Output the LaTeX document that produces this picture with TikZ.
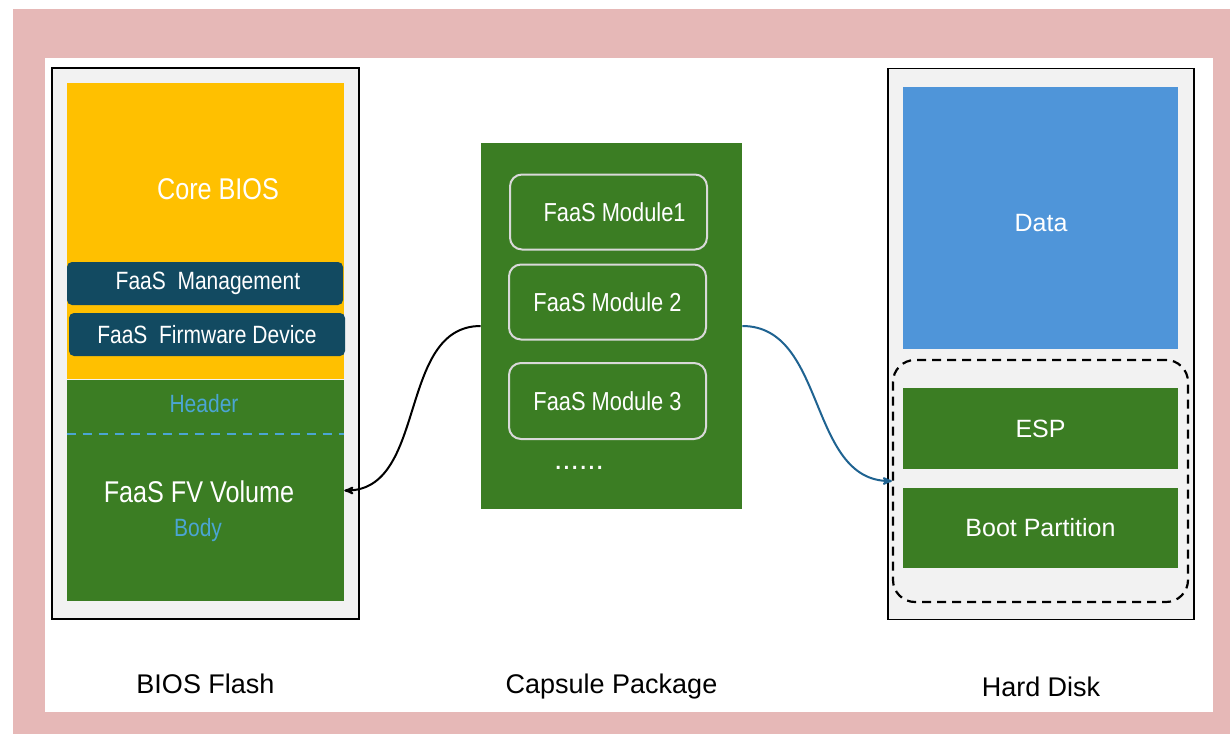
\documentclass[tikz,border=0pt]{standalone}
\usepackage{fontspec}
\setmainfont{Liberation Sans}
\newfontfamily\narrowfont{Liberation Sans}[FakeStretch=0.84]
\usetikzlibrary{arrows,positioning}

\definecolor{framepink}{HTML}{E6B8B7}
\definecolor{panelgrey}{HTML}{F2F2F2}
\definecolor{biosyellow}{HTML}{FFC000}
\definecolor{fvgreen}{HTML}{3B7D23}
\definecolor{faasteal}{HTML}{124A61}
\definecolor{datablue}{HTML}{4F95D9}
\definecolor{hdrblue}{HTML}{4BA5D3}
\definecolor{linkblue}{HTML}{1F6391}
\definecolor{modgrey}{HTML}{D9D9D9}

\begin{document}
\begin{tikzpicture}[x=1pt,y=-1pt,>=stealth',semithick,
                    panel/.style={draw=black,line width=1.2pt,fill=panelgrey,inner sep=0pt},
                    block/.style={inner sep=0pt,draw=none},
                    faasbar/.style={block,fill=faasteal,rounded corners=5pt,text=white,
                                    font=\narrowfont\fontsize{25}{30}\selectfont},
                    module/.style={draw=modgrey,line width=2pt,rounded corners=12pt,inner sep=0pt,
                                   minimum width=197pt,minimum height=75pt,text=white,
                                   font=\narrowfont\fontsize{26}{30}\selectfont},
                    disktxt/.style={text=white,font=\fontsize{25}{30}\selectfont},
                    caption/.style={inner sep=0pt,font=\fontsize{27}{32}\selectfont}]
  % \tikzstyle{every node}=[font=\narrowfont]

  \useasboundingbox (0,0) rectangle (1230,734);
  \fill[framepink] (13,9) rectangle (1230,734);
  \fill[white] (45,58) rectangle (1213,712);

  % bios flash
  \node[panel,minimum width=307pt,minimum height=551pt] (flash) at (205.5,343.5) {};
  \node[block,fill=biosyellow,minimum width=277pt,minimum height=296pt] (core) at (205.5,231) {};
  \node[text=white,font=\narrowfont\fontsize{30}{36}\selectfont] (corelbl) at (218,189) {Core BIOS};
  \node[faasbar,minimum width=276pt,minimum height=43pt] (mgmt) at (205,283.5) {\ FaaS\ \ Management};
  \node[faasbar,minimum width=276pt,minimum height=43pt] (fwdev) at (207,334.5) {FaaS\ \ Firmware Device};
  \node[block,fill=fvgreen,minimum width=277pt,minimum height=221pt] (fv) at (205.5,490.5) {};
  \draw[hdrblue,line width=2pt,dash pattern=on 9pt off 7pt]
    ([yshift=-54pt]fv.north west) -- ([yshift=-54pt]fv.north east);
  \node[text=hdrblue,font=\narrowfont\fontsize{25}{30}\selectfont] (hdrlbl) at (204,404) {Header};
  \node[text=white,font=\narrowfont\fontsize{30}{36}\selectfont] (fvlbl) at (199,492) {FaaS FV Volume};
  \node[text=hdrblue,font=\narrowfont\fontsize{25}{30}\selectfont] (bodylbl) at (198,530) {Body};

  % capsule
  \node[block,fill=fvgreen,minimum width=261pt,minimum height=366pt] (capsule) at (611.5,326) {};
  \node[module] (mod1) at (608.5,212) {\ \ FaaS Module1};
  \node[module] (mod2) at (607.5,302) {FaaS Module 2};
  \node[module,minimum height=76pt] (mod3) at (607.5,401) {FaaS Module 3};
  \node[text=white,font=\fontsize{30}{30}\selectfont] (dots) at (579,468) {......};

  % hard disk
  \node[panel,minimum width=306pt,minimum height=551pt] (disk) at (1041,344) {};
  \node[block,fill=datablue,minimum width=275pt,minimum height=262pt] (data) at (1040.5,218) {};
  \node[disktxt] (datalbl) at (1041,223) {Data};
  \node[draw=black,line width=2.2pt,dash pattern=on 9pt off 6pt,rounded corners=22pt,
        minimum width=295pt,minimum height=242pt,inner sep=0pt] (espgroup) at (1040.5,481) {};
  \node[block,fill=fvgreen,minimum width=275pt,minimum height=81pt,disktxt] (esp) at (1040.5,428.5) {ESP};
  \node[block,fill=fvgreen,minimum width=275pt,minimum height=80pt,disktxt] (boot) at (1040.5,528) {Boot Partition};

  \node[caption] (flashcap) [below=54pt of flash]    {BIOS Flash};
  \node[caption] (capsulecap) [below=164pt of capsule] {Capsule Package};
  \node[caption] (diskcap) [below=56.5pt of disk]   {Hard Disk};

  \path (capsule.west) edge[->,line width=2pt,out=180,in=0]          (fv.east)
        (capsule.east) edge[->,line width=2pt,linkblue,out=0,in=180] (espgroup.west);
\end{tikzpicture}
\end{document}
